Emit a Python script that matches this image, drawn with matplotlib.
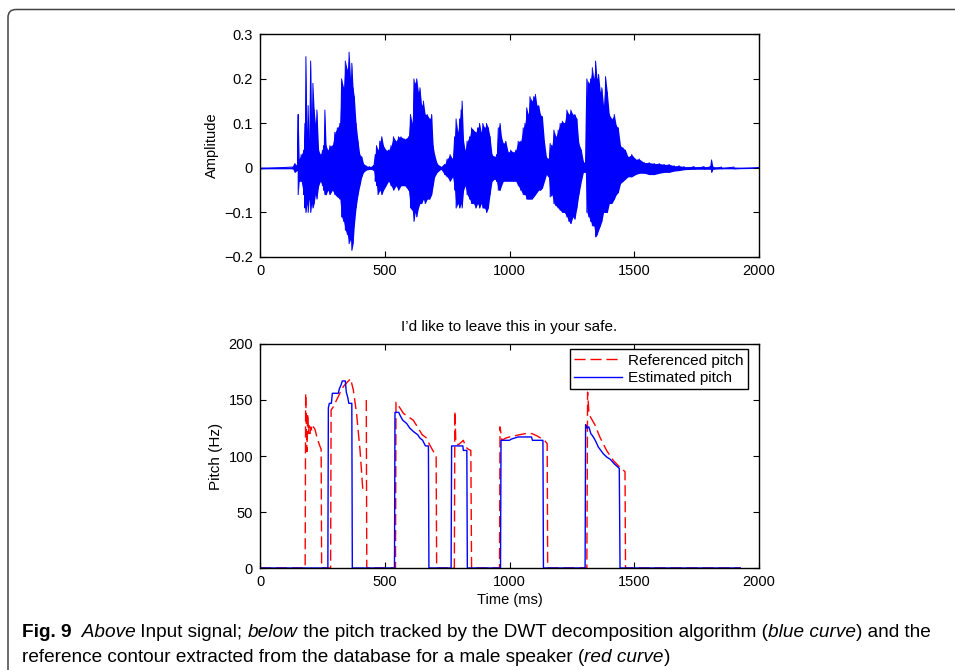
import numpy as np
import matplotlib
matplotlib.use("Agg")
import matplotlib.pyplot as plt
from matplotlib.patches import FancyBboxPatch
from matplotlib.transforms import IdentityTransform

# speech waveform, envelope (ms, upper, lower)
wave_t = [0, 130, 140, 150, 153, 157, 165, 175, 180, 184, 188, 193, 197, 203, 207, 212, 217, 222, 228,
          235, 242, 250, 255, 260, 265, 272, 280, 290, 300, 310, 320, 327, 335, 342, 350, 357, 363,
          368, 373, 378, 385, 393, 400, 408, 415, 425, 440, 455, 462, 467, 473, 480, 488, 495, 505,
          515, 525, 535, 545, 555, 565, 580, 595, 603, 610, 617, 622, 628, 635, 641, 648, 655, 662,
          670, 680, 688, 694, 700, 710, 725, 740, 750, 762, 772, 780, 786, 793, 800, 806, 810, 816,
          822, 830, 840, 848, 856, 865, 872, 880, 887, 893, 900, 908, 915, 922, 930, 940, 948, 955,
          962, 968, 975, 985, 995, 1005, 1015, 1025, 1035, 1045, 1055, 1062, 1069, 1075, 1082, 1090,
          1097, 1104, 1110, 1117, 1124, 1132, 1140, 1148, 1156, 1163, 1170, 1178, 1186, 1195, 1203,
          1212, 1220, 1230, 1238, 1246, 1254, 1262, 1270, 1278, 1288, 1296, 1304, 1310, 1318, 1325,
          1332, 1338, 1345, 1351, 1357, 1364, 1370, 1377, 1385, 1392, 1400, 1410, 1420, 1428, 1436,
          1445, 1455, 1465, 1475, 1490, 1505, 1520, 1540, 1560, 1580, 1600, 1620, 1640, 1660, 1680,
          1700, 1740, 1780, 1805, 1810, 1815, 1850, 1900, 2000]
wave_hi = [0.002, 0.002, 0.01, 0.005, 0.12, 0.02, 0.03, 0.04, 0.10, 0.25, 0.08, 0.14, 0.06, 0.24, 0.10,
           0.19, 0.13, 0.10, 0.13, 0.04, 0.03, 0.04, 0.05, 0.13, 0.05, 0.04, 0.05, 0.05, 0.08, 0.09,
           0.10, 0.20, 0.18, 0.24, 0.22, 0.26, 0.20, 0.235, 0.18, 0.16, 0.10, 0.06, 0.03, 0.025, 0.01,
           0.005, 0.003, 0.005, 0.03, 0.05, 0.04, 0.06, 0.07, 0.05, 0.04, 0.04, 0.05, 0.07, 0.06, 0.07,
           0.07, 0.065, 0.07, 0.12, 0.10, 0.20, 0.19, 0.20, 0.17, 0.18, 0.14, 0.15, 0.12, 0.12, 0.11,
           0.12, 0.05, 0.03, 0.01, 0.003, 0.008, 0.02, 0.03, 0.02, 0.07, 0.11, 0.08, 0.11, 0.13, 0.15,
           0.06, 0.04, 0.06, 0.07, 0.09, 0.085, 0.08, 0.09, 0.10, 0.08, 0.10, 0.09, 0.10, 0.09, 0.07,
           0.03, 0.025, 0.03, 0.09, 0.10, 0.07, 0.055, 0.06, 0.035, 0.04, 0.035, 0.04, 0.06, 0.06, 0.09,
           0.10, 0.135, 0.12, 0.16, 0.15, 0.16, 0.165, 0.14, 0.14, 0.12, 0.115, 0.06, 0.025, 0.02, 0.055,
           0.05, 0.085, 0.07, 0.085, 0.10, 0.105, 0.10, 0.13, 0.12, 0.13, 0.12, 0.12, 0.11, 0.055, 0.04,
           0.015, 0.01, 0.20, 0.19, 0.20, 0.225, 0.20, 0.24, 0.20, 0.21, 0.17, 0.18, 0.14, 0.205, 0.17,
           0.12, 0.11, 0.12, 0.095, 0.09, 0.05, 0.045, 0.04, 0.025, 0.03, 0.02, 0.02, 0.012, 0.012,
           0.01, 0.01, 0.008, 0.008, 0.005, 0.005, 0.003, 0.003, 0.003, 0.003, 0.018, 0.003, 0.002,
           0.002, 0.001]
wave_lo = [-0.002, -0.002, -0.01, -0.005, -0.06, -0.03, -0.03, -0.06, -0.09, -0.10, -0.08, -0.10, -0.07,
           -0.10, -0.08, -0.09, -0.08, -0.06, -0.07, -0.04, -0.03, -0.04, -0.05, -0.06, -0.06, -0.05,
           -0.06, -0.05, -0.06, -0.065, -0.07, -0.11, -0.12, -0.14, -0.15, -0.17, -0.16, -0.185, -0.17,
           -0.13, -0.09, -0.06, -0.04, -0.02, -0.01, -0.005, -0.003, -0.005, -0.03, -0.04, -0.06, -0.05,
           -0.06, -0.05, -0.04, -0.03, -0.04, -0.05, -0.04, -0.05, -0.04, -0.04, -0.05, -0.09, -0.095,
           -0.12, -0.10, -0.11, -0.09, -0.08, -0.08, -0.07, -0.08, -0.07, -0.07, -0.06, -0.04, -0.02,
           -0.01, -0.003, -0.015, -0.02, -0.03, -0.02, -0.05, -0.09, -0.08, -0.09, -0.08, -0.09, -0.05,
           -0.04, -0.06, -0.07, -0.08, -0.08, -0.09, -0.08, -0.09, -0.08, -0.09, -0.09, -0.10, -0.09,
           -0.06, -0.03, -0.025, -0.03, -0.05, -0.05, -0.04, -0.03, -0.03, -0.03, -0.03, -0.03, -0.03,
           -0.04, -0.05, -0.06, -0.06, -0.07, -0.07, -0.07, -0.07, -0.065, -0.06, -0.055, -0.05,
           -0.05, -0.045, -0.03, -0.015, -0.02, -0.065, -0.06, -0.08, -0.085, -0.09, -0.095, -0.10,
           -0.10, -0.11, -0.12, -0.125, -0.11, -0.115, -0.09, -0.06, -0.03, -0.01, -0.01, -0.10, -0.11,
           -0.12, -0.13, -0.13, -0.155, -0.15, -0.14, -0.13, -0.12, -0.10, -0.10, -0.10, -0.08, -0.08,
           -0.07, -0.06, -0.055, -0.035, -0.03, -0.025, -0.02, -0.02, -0.015, -0.012, -0.012, -0.015,
           -0.015, -0.012, -0.01, -0.01, -0.007, -0.006, -0.004, -0.003, -0.003, -0.003, -0.01, -0.003,
           -0.002, -0.002, -0.001]

# estimated pitch (blue), ms / Hz
est_t = [0, 272, 274, 278, 286, 290, 314, 318, 324, 330, 342, 346, 352, 356, 368, 370,
         539, 541, 556, 562, 572, 588, 600, 614, 632, 641, 652, 663, 675, 677,
         766, 768, 813, 815, 829, 831,
         964, 966, 1000, 1006, 1020, 1035, 1088, 1092, 1134, 1136,
         1303, 1305, 1310, 1318, 1326, 1336, 1346, 1356, 1366, 1376, 1390, 1404, 1420, 1440, 1443, 1925]
est_hz = [0, 0, 143, 147, 147, 156, 156, 160, 163, 167, 167, 157, 152, 147, 147, 0,
          0, 139, 139, 136, 132, 129, 125, 122, 119, 116, 114, 109, 109, 0,
          0, 109, 109, 105, 105, 0,
          0, 114, 114, 115, 116, 117, 117, 114, 114, 0,
          0, 128, 125, 126, 120, 117, 113, 108, 105, 102, 99, 97, 93, 89, 0, 0]

# referenced pitch (red), ms / Hz
ref_t = [0, 181, 183, 186, 188, 191, 194, 197, 200, 204, 208, 214, 220, 228, 238, 245, 247,
         283, 285, 294, 307, 320, 334, 350, 363, 374, 387, 401, 412, 419, 426, 428,
         543, 545, 555, 575, 588, 614, 634, 650, 668, 680, 695, 706, 708,
         779, 781, 785, 795, 805, 815, 825, 835, 845, 848,
         960, 962, 970, 985, 1000, 1020, 1040, 1065, 1090, 1110, 1140, 1151, 1153,
         1310, 1313, 1318, 1324, 1342, 1362, 1389, 1416, 1442, 1463, 1465, 1925]
ref_hz = [0, 0, 156, 125, 104, 138, 120, 127, 120, 126, 122, 126, 124, 117, 110, 106, 0,
          0, 141, 144, 150, 156, 162, 166, 169, 159, 138, 105, 70, np.nan, 150, 0,
          0, 148, 145, 138, 136, 132, 125, 119, 116, 110, 104, 100, 0,
          0, 140, 112, 110, 112, 114, 108, 106, 105, 0,
          0, 126, 114, 116, 117, 118, 119, 120, 120, 118, 114, 111, 0,
          0, 157, 140, 135, 128, 117, 105, 96, 90, 86, 0, 0]

plt.rcParams["font.family"] = ["Liberation Sans", "DejaVu Sans"]
plt.rcParams["font.size"] = 10.5
plt.rcParams["lines.scale_dashes"] = False

fig = plt.figure(figsize=(9.55, 6.70), dpi=100)
W, H = 955, 670


def box(ax):
    for s in ax.spines.values():
        s.set_linewidth(1.0)
    ax.tick_params(direction="in", top=True, right=True, length=4, width=0.8, pad=5)


ax1 = fig.add_axes([260 / W, 1 - 257 / H, 499 / W, 222.7 / H])
ax1.fill_between(wave_t, wave_lo, wave_hi, color="#0000ff", lw=0)
zz_t = np.repeat(wave_t, 2)
zz_v = np.ravel(np.column_stack([wave_hi, wave_lo]))
ax1.plot(zz_t, zz_v, color="#0000ff", lw=0.7)
ax1.set_xlim(0, 2000)
ax1.set_ylim(-0.2, 0.3)
ax1.set_xticks([0, 500, 1000, 1500, 2000])
ax1.set_yticks([-0.2, -0.1, 0, 0.1, 0.2, 0.3])
ax1.set_yticklabels(["\u22120.2", "\u22120.1", "0", "0.1", "0.2", "0.3"])
ax1.set_ylabel("Amplitude")
ax1.yaxis.set_label_coords(-0.082, 0.5)
box(ax1)

ax2 = fig.add_axes([260 / W, 1 - 568 / H, 499 / W, 224 / H])
ax2.plot(ref_t, ref_hz, color="#ff0000", lw=1.0, dashes=(8, 3.5), label="Referenced pitch")
ax2.plot(est_t, est_hz, color="#0000ff", lw=1.0, label="Estimated pitch")
ax2.set_xlim(0, 2000)
ax2.set_ylim(0, 200)
ax2.set_xticks([0, 500, 1000, 1500, 2000])
ax2.set_yticks([0, 50, 100, 150, 200])
ax2.set_xlabel("Time (ms)")
ax2.xaxis.set_label_coords(0.5, -0.112)
ax2.set_ylabel("Pitch (Hz)", fontsize=11)
ax2.yaxis.set_label_coords(-0.074, 0.5)
ax2.set_title("I\u2019d like to leave this in your safe.", fontsize=11, pad=9)
box(ax2)
leg = ax2.legend(loc="upper right", bbox_to_anchor=(0.978, 0.978), fancybox=False,
                 edgecolor="black", framealpha=1, fontsize=11, handlelength=3.1,
                 handletextpad=0.4, labelspacing=0.22, borderpad=0.3, borderaxespad=0)
leg.get_frame().set_linewidth(1.0)

# rounded frame around the figure
frame = FancyBboxPatch((8, -30), 1000, 660.5 + 30, boxstyle="round,pad=0,rounding_size=8",
                       transform=IdentityTransform(), fill=False, edgecolor="#444444", lw=1.1)
fig.add_artist(frame)

cap_size = 13.7
lines = [
    [("Fig. 9", "bold", "normal"), ("  Above", "normal", "italic"),
     (" Input signal; ", "normal", "normal"), ("below", "normal", "italic"),
     (" the pitch tracked by the DWT decomposition algorithm (", "normal", "normal"),
     ("blue curve", "normal", "italic"), (") and the", "normal", "normal")],
    [("reference contour extracted from the database for a male speaker (", "normal", "normal"),
     ("red curve", "normal", "italic"), (")", "normal", "normal")],
]
for row, y in zip(lines, [1 - 637 / H, 1 - 662 / H]):
    prev = None
    for s, wt, st in row:
        kw = dict(fontsize=cap_size, fontweight=wt, fontstyle=st)
        if prev is None:
            prev = fig.text(22 / W, y, s, va="baseline", ha="left", **kw)
        else:
            prev = ax2.annotate(s, xy=(1, 0), xycoords=prev, va="bottom", ha="left",
                                annotation_clip=False, **kw)

fig.savefig("out.png", dpi=100)
